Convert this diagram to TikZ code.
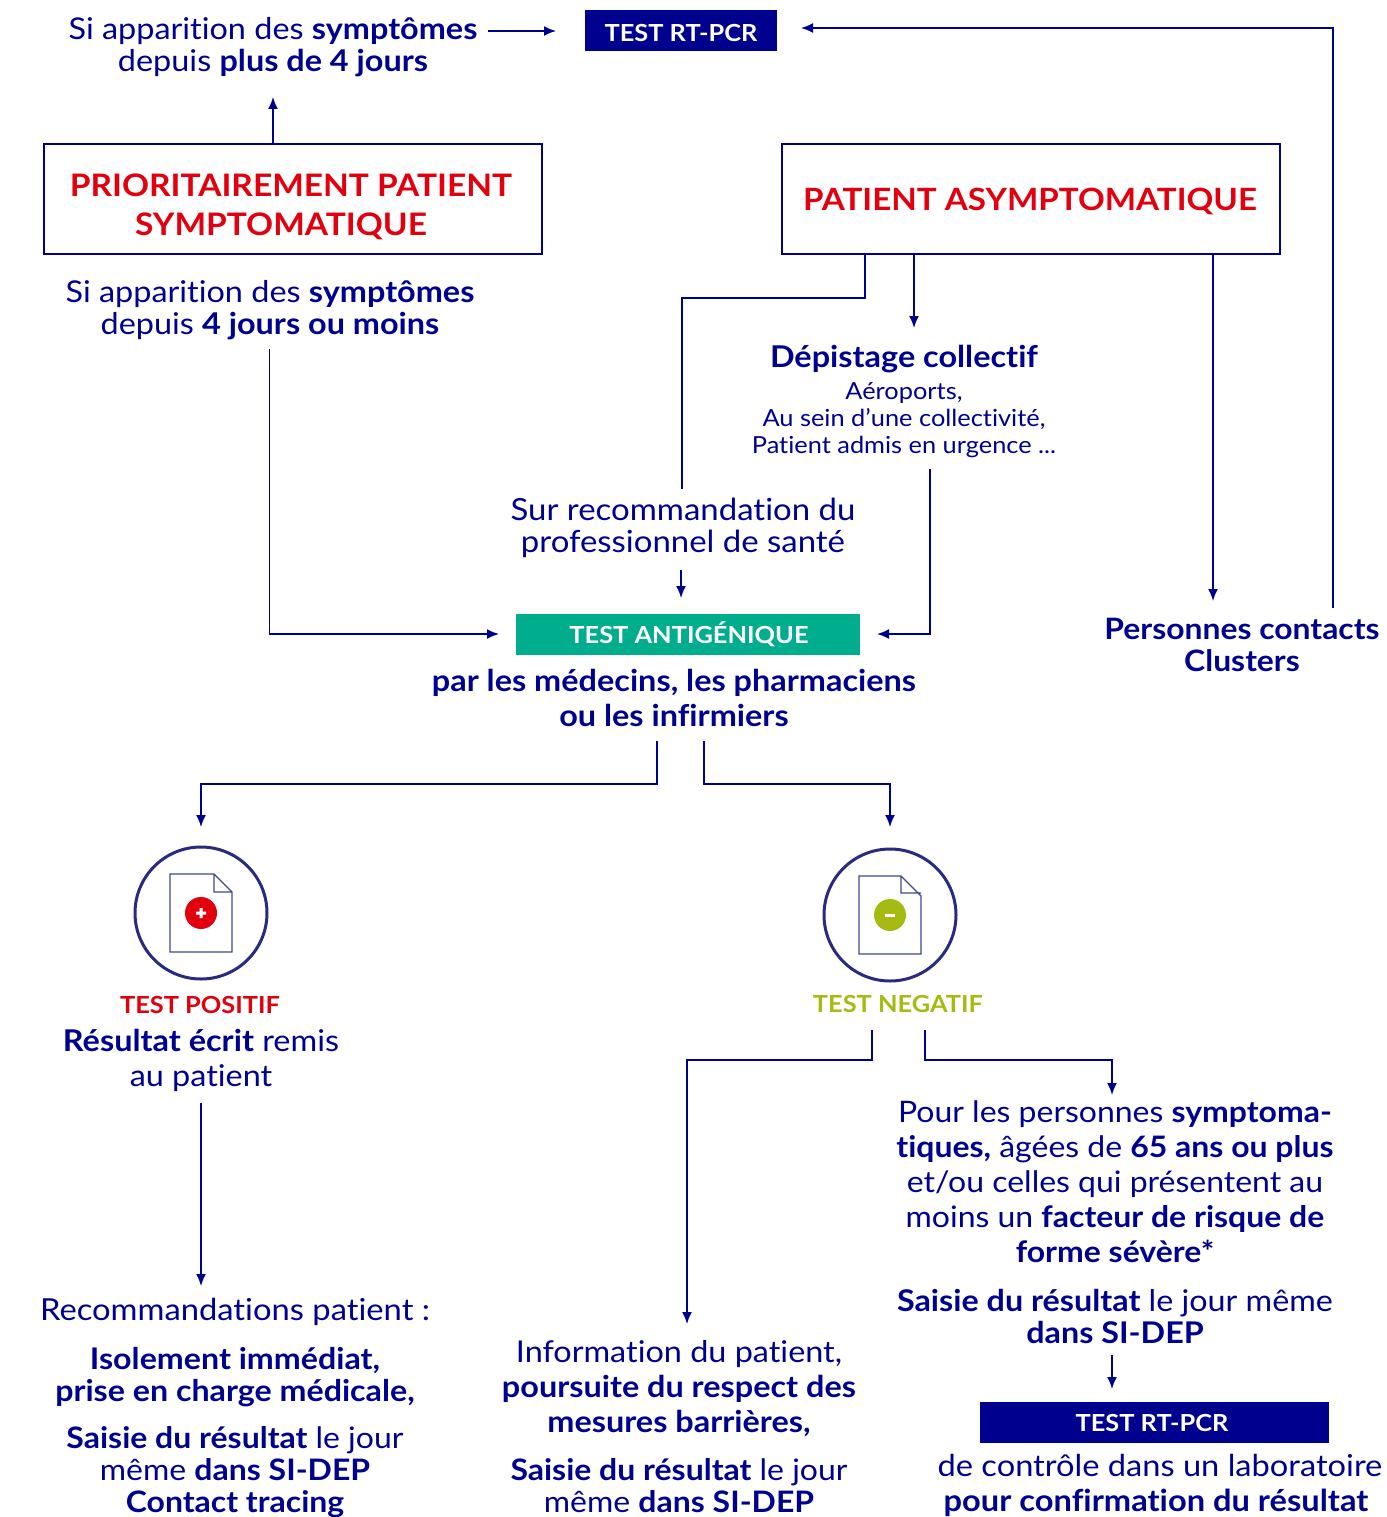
\documentclass[tikz,border=0pt]{standalone}
\usepackage{fontspec}
\setmainfont{Lato}[FakeStretch=1.08,Ligatures=NoCommon]
\usetikzlibrary{arrows.meta}
\definecolor{navy}{HTML}{00008F}
\definecolor{redt}{HTML}{E2000F}
\definecolor{greent}{HTML}{A5BB12}
\definecolor{teal}{HTML}{00AE8E}
\definecolor{ring}{HTML}{2A2A7E}
\definecolor{docl}{HTML}{3D4A8C}
\newcommand{\bd}[1]{\textbf{#1}}
\tikzset{
 x=1pt,y=-1pt,
 tx/.style={align=center,inner sep=0pt,text=navy},
 f/.style 2 args={font=\fontsize{#1}{#2}\selectfont},
 conn/.style={draw=navy,line width=1.7pt},
 arr/.style={conn,-{Latex[length=12pt,width=10pt]}},
 frame/.style={draw=navy,line width=2pt,inner sep=0pt,outer sep=0pt,anchor=north west},
 band/.style={inner sep=0pt,outer sep=0pt,anchor=north west,text=white,align=center,font=\fontsize{23.5}{28}\selectfont\bfseries},
 ringc/.style={draw=ring,line width=3pt,circle,minimum size=132pt,inner sep=0pt,outer sep=0pt},
 doc/.style={draw=docl,line width=1.4pt,line join=miter},
}
\begin{document}
\begin{tikzpicture}
\useasboundingbox (0,0) rectangle (1386,1517);
% boxes
\node[frame,minimum width=498pt,minimum height=110pt] (prio) at (44,144) {};
\node[frame,minimum width=498pt,minimum height=110pt] (asym) at (782,144) {};
\node[band,fill=navy,minimum width=192pt,minimum height=41pt] (rt1) at (585,10) {\rule{0pt}{23pt}TEST RT-PCR};
\node[band,fill=teal,minimum width=344pt,minimum height=41pt] (anti) at (516,614) {TEST ANTIGÉNIQUE\hspace*{-2pt}};
\node[band,fill=navy,minimum width=349pt,minimum height=41pt] (rt2) at (980,1402) {TEST RT-PCR\hspace*{5pt}};
% texts
\node[tx,f={30}{32}] (s4plus) at (273,47) {Si apparition des \bd{symptômes}\\depuis \bd{plus de 4 jours}};
\node[tx,text=redt,font=\fontsize{31}{39}\selectfont\bfseries] (priot) at (291,207) {PRIORITAIREMENT PATIENT\\SYMPTOMATIQUE\hspace*{20pt}};
\node[tx,font=\fontsize{30.7}{39}\selectfont\bfseries,text=redt] (asymt) at (1030,201) {PATIENT ASYMPTOMATIQUE};
\node[tx,f={30}{32}] (s4) at (270,310) {Si apparition des \bd{symptômes}\\depuis \bd{4 jours ou moins}};
\node[tx,f={30}{34}] (dep) at (904,359) {\bd{Dépistage collectif}};
\node[tx,f={23.5}{27}] (depd) at (904,420) {Aéroports,\\Au sein d’une collectivité,\\Patient admis en urgence ...};
\node[tx,f={30.5}{32}] (reco) at (683,528) {Sur recommandation du\\professionnel de santé};
\node[tx,f={30}{35}] (par) at (674,697.500) {\bd{par les médecins, les pharmaciens}\\\bd{ou les infirmiers}};
\node[tx,f={29.5}{32}] (pers) at (1242,645) {\bd{Personnes contacts}\\\bd{Clusters}};
% icons
\node[ringc] (pos) at (201,913) {};
\node[ringc] (neg) at (890,915) {};
\draw[doc] (170,874) -- (214,874) -- (232,892) -- (232,952) -- (170,952) -- cycle (214,874) -- (214,892) -- (232,892);
\draw[doc] (859,876) -- (901,876) -- (921,896) -- (921,954) -- (859,954) -- cycle (901,876) -- (901,893) -- (921,893);
\fill[redt] (201,913) circle (16);
\fill[white] (196,911.500) rectangle (206,914.500) (199.500,908) rectangle (202.500,918);
\fill[greent] (890,915) circle (16);
\fill[white] (885,913.500) rectangle (895,916.500);
\node[tx,font=\fontsize{23.5}{28}\selectfont\bfseries,text=redt] (post) at (200,1005) {TEST POSITIF};
\node[tx,font=\fontsize{23.5}{28}\selectfont\bfseries,text=greent] (negt) at (898,1004) {TEST NEGATIF};
\node[tx,f={30}{35}] (res) at (201,1060.500) {\bd{Résultat écrit} remis\\au patient};
\node[tx,f={30.3}{32}] (recp) at (235,1312) {Recommandations patient :};
\node[tx,f={29.8}{32}] (iso) at (235,1377) {\bd{Isolement immédiat,}\\\bd{prise en charge médicale,}};
\node[tx,f={29.6}{32}] (sai1) at (235,1472) {\bd{Saisie du résultat} le jour\\même \bd{dans SI-DEP}\\\bd{Contact tracing}};
\node[tx,f={30}{35}] (info) at (679,1389) {Information du patient,\\\bd{poursuite du respect des}\\\bd{mesures barrières,}};
\node[tx,f={29.6}{32}] (sai2) at (679,1486) {\bd{Saisie du résultat} le jour\\même \bd{dans SI-DEP}};
\node[tx,f={29.6}{35}] (pour) at (1115,1182) {Pour les personnes \bd{symptoma-}\\\bd{tiques,} âgées de \bd{65 ans ou plus}\\et/ou celles qui présentent au\\moins un \bd{facteur de risque de}\\\bd{forme sévère*}};
\node[tx,f={29.9}{32}] (sai3) at (1115,1316) {\bd{Saisie du résultat} le jour même\\\bd{dans SI-DEP}};
\node[tx,f={30.2}{35}] (ctrl) at (1160,1485.500) {de contrôle dans un laboratoire\\\bd{pour confirmation du résultat}\hspace*{8pt}};
% connector ends
\foreach \n/\x/\y in {a1/488/31,a2/556/31,b1/1333/608,b2/1333/28,b3/801/28,c1/273/144,c2/273/97,
 d1/269.500/349,d2/269.500/634,d3/499/634,e1/865/254,e2/865/298,e3/682/298,e4/682/489,f1/914/254,f2/914/328,
 g1/1213/254,g2/1213/601,h1/681/570,h2/681/598,i1/930/469,i2/930/634,i3/877/634,
 j1/657/741,j2/657/784,j3/201/784,j4/201/827,k1/704/741,k2/704/784,k3/890/784,k4/890/827,
 l1/201/1103,l2/201/1286,m1/872/1030,m2/872/1060,m3/687/1060,m4/687/1324,
 n1/925/1030,n2/925/1060,n3/1112/1060,n4/1112/1095,o1/1112/1355,o2/1112/1389}
 {\coordinate (\n) at (\x,\y);}
\draw[arr] (a1) -- (a2);
\draw[arr] (b1) -- (b2) -- (b3);
\draw[arr] (c1) -- (c2);
\draw[arr] (d1) -- (d2) -- (d3);
\draw[conn] (e1) -- (e2) -- (e3) -- (e4);
\draw[arr] (f1) -- (f2);
\draw[arr] (g1) -- (g2);
\draw[arr] (h1) -- (h2);
\draw[arr] (i1) -- (i2) -- (i3);
\draw[arr] (j1) -- (j2) -- (j3) -- (j4);
\draw[arr] (k1) -- (k2) -- (k3) -- (k4);
\draw[arr] (l1) -- (l2);
\draw[arr] (m1) -- (m2) -- (m3) -- (m4);
\draw[arr] (n1) -- (n2) -- (n3) -- (n4);
\draw[arr] (o1) -- (o2);
\end{tikzpicture}
\end{document}
